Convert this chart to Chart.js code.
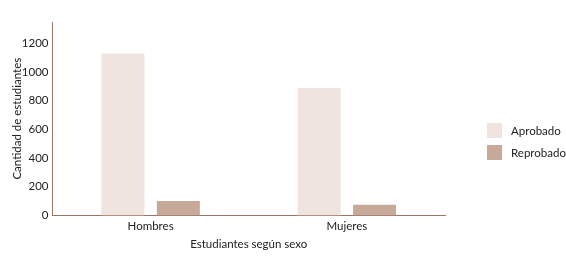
<!DOCTYPE html>
<html>
<head>
<meta charset="utf-8">
<script src="https://cdn.jsdelivr.net/npm/chart.js@4/dist/chart.umd.min.js"></script>
<style>
    html, body { margin: 0; padding: 0; background: #fff; }
    #wrap { position: relative; width: 566px; height: 264px; }
    #legend { position: absolute; left: 487px; top: 123px; font: 11.5px Lato, sans-serif; color: #222; }
    .item { display: flex; align-items: center; height: 15px; margin-bottom: 7px; }
    .box { width: 15px; height: 15px; margin-right: 9px; }
</style>
</head>
<body>
<div id="wrap">
    <canvas id="chart" width="566" height="264"></canvas>
    <div id="legend"></div>
</div>
<script>
// 数据
const categories = ['Hombres', 'Mujeres'];
const seriesNames = ['Aprobado', 'Reprobado'];
const aprobado = [1130, 890];
const reprobado = [100, 75];
const yTicks = [0, 200, 400, 600, 800, 1000, 1200];

const colors = ['#f0e4df', '#c7a99a'];
const axisColor = '#9c7468';
const font = { family: 'Lato, sans-serif', size: 11.5 };

const chart = new Chart(document.getElementById('chart'), {
    type: 'bar',
    data: {
        labels: categories,
        datasets: [
            { label: seriesNames[0], data: aprobado, backgroundColor: colors[0] },
            { label: seriesNames[1], data: reprobado, backgroundColor: colors[1] }
        ]
    },
    options: {
        responsive: false,
        animation: false,
        categoryPercentage: 0.565,
        barPercentage: 0.775,
        layout: { padding: { top: 22, right: 121, left: 6, bottom: 9 } },
        plugins: { legend: { display: false }, tooltip: { enabled: false } },
        scales: {
            x: {
                grid: { display: false, drawTicks: false },
                border: { color: axisColor, width: 1 },
                ticks: { color: '#222', font: font, padding: 4 },
                title: { display: true, text: 'Estudiantes según sexo', color: '#222', font: font, padding: { top: 0 } }
            },
            y: {
                min: 0,
                max: 1350,
                grid: { display: false, drawTicks: false },
                border: { color: axisColor, width: 1 },
                afterBuildTicks: (axis) => { axis.ticks = yTicks.map(v => ({ value: v })); },
                ticks: { color: '#222', font: font, padding: 4, callback: (v) => String(v) },
                title: { display: true, text: 'Cantidad de estudiantes', color: '#222', font: font, padding: { bottom: -6 } }
            }
        }
    }
});

// 图例
document.getElementById('legend').innerHTML = seriesNames.map((name, i) => `
    <div class="item"><span class="box" style="background:${colors[i]}"></span>${name}</div>
`).join('');
</script>
</body>
</html>
